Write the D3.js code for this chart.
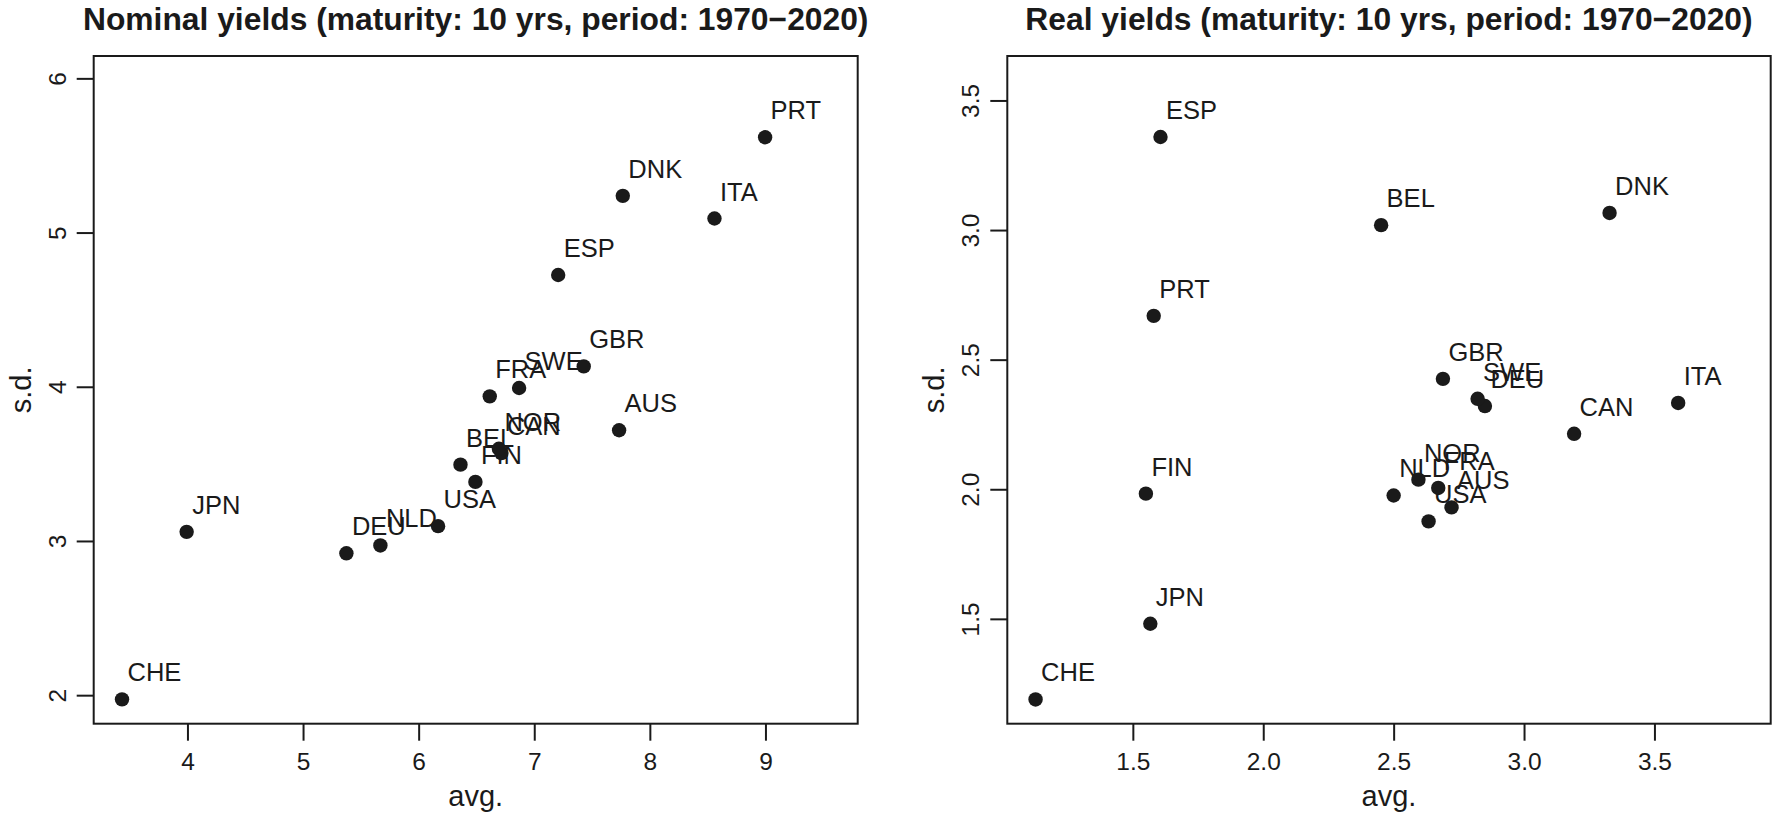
<!DOCTYPE html>
<html>
<head>
<meta charset="utf-8">
<script src="https://cdn.jsdelivr.net/npm/d3@7"></script>
<style>
  html, body { margin: 0; padding: 0; background: #ffffff; }
  svg { display: block; }
  text { font-family: "Liberation Sans", Arial, Helvetica, sans-serif; fill: #1a1a1a; }
</style>
</head>
<body>
<div id="chart"></div>
<script>
// ---- data ----
const countries = ["AUS","BEL","CAN","CHE","DEU","DNK","ESP","FIN","FRA","GBR","ITA","JPN","NLD","NOR","PRT","SWE","USA"];
const nominalAvg = [7.734, 6.362, 6.716, 3.434, 5.375, 7.766, 7.207, 6.491, 6.615, 7.428, 8.559, 3.993, 5.669, 6.694, 8.997, 6.869, 6.168];
const nominalSd  = [3.718, 3.495, 3.570, 1.973, 2.920, 5.238, 4.725, 3.383, 3.938, 4.132, 5.091, 3.059, 2.971, 3.598, 5.618, 3.992, 3.096];
const realAvg    = [2.722, 2.452, 3.192, 1.127, 2.850, 3.328, 1.606, 1.550, 2.671, 2.689, 3.591, 1.567, 2.500, 2.595, 1.580, 2.822, 2.634];
const realSd     = [1.930, 3.019, 2.214, 1.189, 2.321, 3.066, 3.359, 1.983, 2.005, 2.426, 2.333, 1.481, 1.976, 2.037, 2.669, 2.349, 1.876];

const nominalXTicks = [4, 5, 6, 7, 8, 9];
const nominalYTicks = [2, 3, 4, 5, 6];
const realXTicks = [1.5, 2.0, 2.5, 3.0, 3.5];
const realYTicks = [1.5, 2.0, 2.5, 3.0, 3.5];

const titles = ["Nominal yields (maturity: 10 yrs, period: 1970\u22122020)",
                "Real yields (maturity: 10 yrs, period: 1970\u22122020)"];
const xLabel = "avg.";
const yLabel = "s.d.";

// ---- layout ----
const W = 1776, H = 817;
const svg = d3.select("#chart").append("svg").attr("width", W).attr("height", H);

const panels = [
  { title: titles[0], xs: nominalAvg, ys: nominalSd, xDom: [3.189, 9.798], yDom: [1.815, 6.145],
    xTicks: nominalXTicks, yTicks: nominalYTicks, fmt: d3.format("d"), left: 93.7, right: 857.7 },
  { title: titles[1], xs: realAvg, ys: realSd, xDom: [1.0186, 3.9458], yDom: [1.0955, 3.6715],
    xTicks: realXTicks, yTicks: realYTicks, fmt: d3.format(".1f"), left: 1007.3, right: 1770.7 }
];
const boxTop = 56, boxBottom = 723.7;
const ink = "#1a1a1a";

panels.forEach(p => {
  const x = d3.scaleLinear().domain(p.xDom).range([p.left, p.right]);
  const y = d3.scaleLinear().domain(p.yDom).range([boxBottom, boxTop]);
  const g = svg.append("g");

  // x axis
  const xa = g.append("g").attr("transform", `translate(0,${boxBottom})`)
    .call(d3.axisBottom(x).tickValues(p.xTicks).tickFormat(p.fmt).tickSize(17).tickPadding(12));
  xa.select(".domain").remove();
  xa.selectAll(".tick line").attr("stroke", ink).attr("stroke-width", 2);
  xa.selectAll(".tick text").attr("fill", ink).attr("font-size", 24.5)
    .attr("font-family", '"Liberation Sans", Arial, sans-serif')
    .attr("dy", 0).attr("y", 46);

  // y axis
  const ya = g.append("g").attr("transform", `translate(${p.left},0)`)
    .call(d3.axisLeft(y).tickValues(p.yTicks).tickFormat(p.fmt).tickSize(17));
  ya.select(".domain").remove();
  ya.selectAll(".tick line").attr("stroke", ink).attr("stroke-width", 2);
  ya.selectAll(".tick text").attr("fill", ink).attr("font-size", 24.5)
    .attr("font-family", '"Liberation Sans", Arial, sans-serif')
    .attr("x", 0).attr("dy", 0).attr("text-anchor", "middle")
    .attr("transform", "translate(-28,0) rotate(-90)");

  // box
  g.append("rect").attr("x", p.left).attr("y", boxTop)
    .attr("width", p.right - p.left).attr("height", boxBottom - boxTop)
    .attr("fill", "none").attr("stroke", ink).attr("stroke-width", 2);

  // points
  const idx = d3.range(countries.length);
  g.selectAll("circle.pt").data(idx).enter().append("circle")
    .attr("class", "pt")
    .attr("cx", i => x(p.xs[i])).attr("cy", i => y(p.ys[i]))
    .attr("r", 7.2).attr("fill", ink);

  // labels
  g.selectAll("text.lab").data(idx).enter().append("text")
    .attr("class", "lab")
    .attr("x", i => x(p.xs[i]) + 5.5).attr("y", i => y(p.ys[i]) - 18)
    .attr("font-size", 25.5).attr("fill", ink)
    .text(i => countries[i]);

  // title
  g.append("text").attr("x", (p.left + p.right) / 2).attr("y", 30)
    .attr("text-anchor", "middle").attr("font-size", 31.8).attr("font-weight", "bold")
    .attr("fill", ink).text(p.title);

  // axis titles
  g.append("text").attr("x", (p.left + p.right) / 2).attr("y", 806)
    .attr("text-anchor", "middle").attr("font-size", 29).attr("fill", ink).text(xLabel);
  g.append("text").attr("transform", `translate(${p.left - 63},${(boxTop + boxBottom) / 2}) rotate(-90)`)
    .attr("text-anchor", "middle").attr("font-size", 29).attr("fill", ink).text(yLabel);
});
</script>
</body>
</html>
